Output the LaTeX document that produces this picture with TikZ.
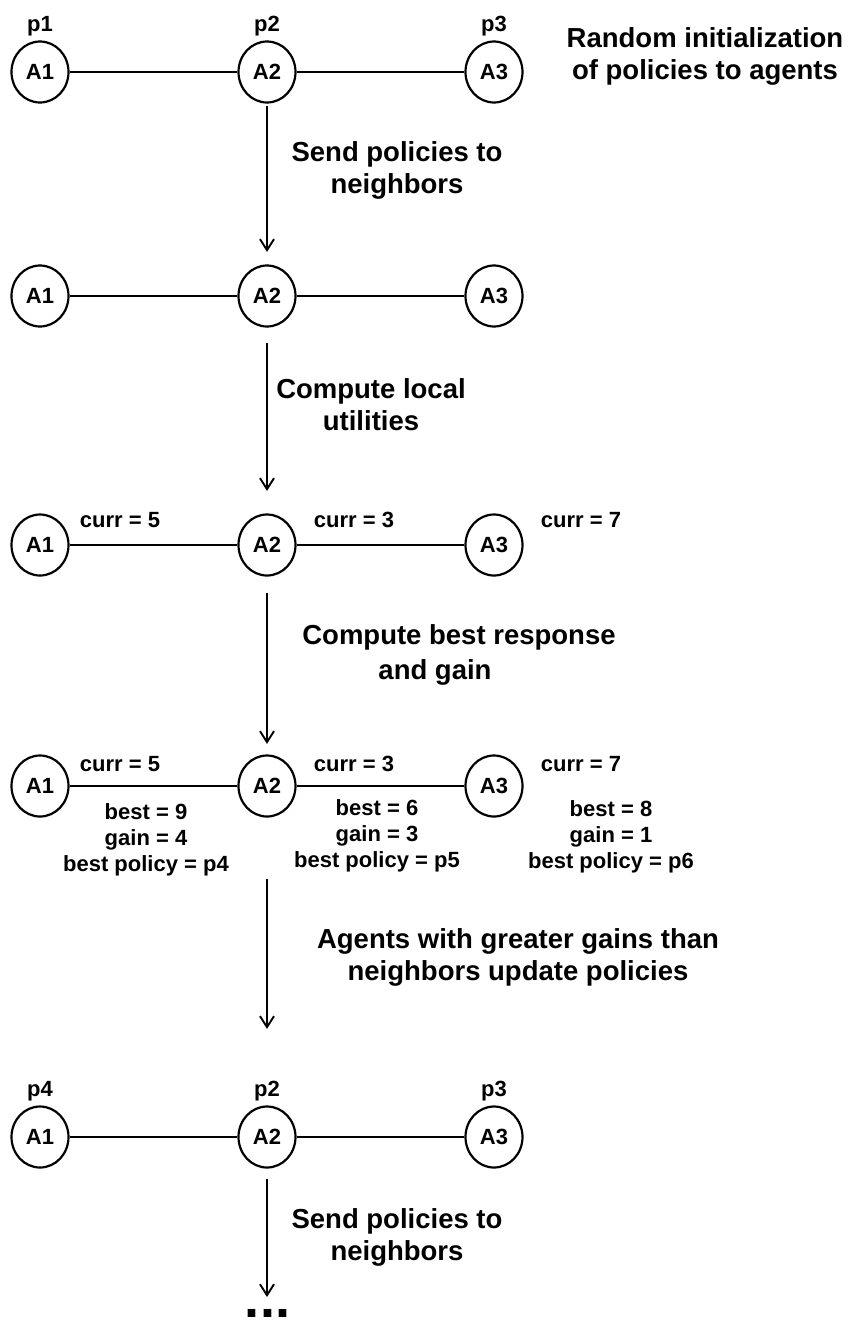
\documentclass[tikz,border=0pt]{standalone}
\usepackage{fontspec}
\setmainfont{Liberation Sans}
\usetikzlibrary{shapes.geometric,arrows.meta}
\begin{document}
\begin{tikzpicture}[x=1pt,y=-1pt,
  agent/.style={ellipse,draw,line width=2.2pt,minimum width=57pt,minimum height=61pt,inner sep=0pt,font=\fontsize{22}{26}\selectfont\bfseries},
  link/.style={line width=1.9pt},
  flow/.style={line width=1.9pt,-{Straight Barb[length=11pt,width=14pt,line width=1.9pt]}},
  steptext/.style={align=center,inner sep=0pt,font=\fontsize{27.5}{32}\selectfont\bfseries},
  info/.style={align=center,inner sep=0pt,font=\fontsize{22}{26}\selectfont\bfseries},
  pol/.style={anchor=base,inner sep=0pt,font=\fontsize{22}{26}\selectfont\bfseries},
]
\useasboundingbox (0,0) rectangle (852,1320);

% five snapshots of the three-agent chain
\foreach \r/\y in {1/72,2/296,3/545,4/786,5/1137}{
  \node[agent] (a1r\r) at (40,\y) {A1};
  \node[agent] (a2r\r) at (267,\y) {A2};
  \node[agent] (a3r\r) at (494,\y) {A3};
  \draw[link] (a1r\r) -- (a2r\r);
  \draw[link] (a2r\r) -- (a3r\r);
}

% policies held by the agents
\node[pol] (p1a) at (40,31) {p1};
\node[pol] (p2a) at (267,31) {p2};
\node[pol] (p3a) at (494,31) {p3};
\node[pol] (p4b) at (40,1096) {p4};
\node[pol] (p2b) at (267,1096) {p2};
\node[pol] (p3b) at (494,1096) {p3};

% local utilities
\node[info] (c1r3) at (120,520) {curr = 5};
\node[info] (c2r3) at (354,520) {curr = 3};
\node[info] (c3r3) at (581,520) {curr = 7};
\node[info] (c1r4) at (120,764) {curr = 5};
\node[info] (c2r4) at (354,764) {curr = 3};
\node[info] (c3r4) at (581,764) {curr = 7};

% best responses and gains
\node[info] (g1) at (146,840) {best = 9\\gain = 4\\best policy = p4};
\node[info] (g2) at (377,836) {best = 6\\gain = 3\\best policy = p5};
\node[info] (g3) at (611,837) {best = 8\\gain = 1\\best policy = p6};

% step descriptions
\node[steptext] (init) at (705,56) {Random initialization\\of policies to agents};
\node[steptext] (send1) at (397,170) {Send policies to\\neighbors};
\node[steptext] (local) at (371,405) {Compute local\\utilities};
\node[steptext] (respA) at (459,637) {Compute best response};
\node[steptext] (respB) at (435,672) {and gain};
\node[steptext] (update) at (518,957) {Agents with greater gains than\\neighbors update policies};
\node[steptext] (send2) at (397,1237) {Send policies to\\neighbors};

% continuation
\node[anchor=base,inner sep=0pt,font=\fontsize{54}{60}\selectfont\bfseries] (dots) at (267.5,1317) {...};
\coordinate (more) at (267,1297);

% transitions between snapshots
\draw[flow,shorten <=2.5pt,shorten >=12.5pt] (a2r1) -- (a2r2);
\draw[flow,shorten <=15.5pt,shorten >=22.5pt] (a2r2) -- (a2r3);
\draw[flow,shorten <=16.5pt,shorten >=10.5pt] (a2r3) -- (a2r4);
\draw[flow,shorten <=61.5pt,shorten >=76.5pt] (a2r4) -- (a2r5);
\draw[flow,shorten <=10.5pt] (a2r5) -- (more);
\end{tikzpicture}
\end{document}
